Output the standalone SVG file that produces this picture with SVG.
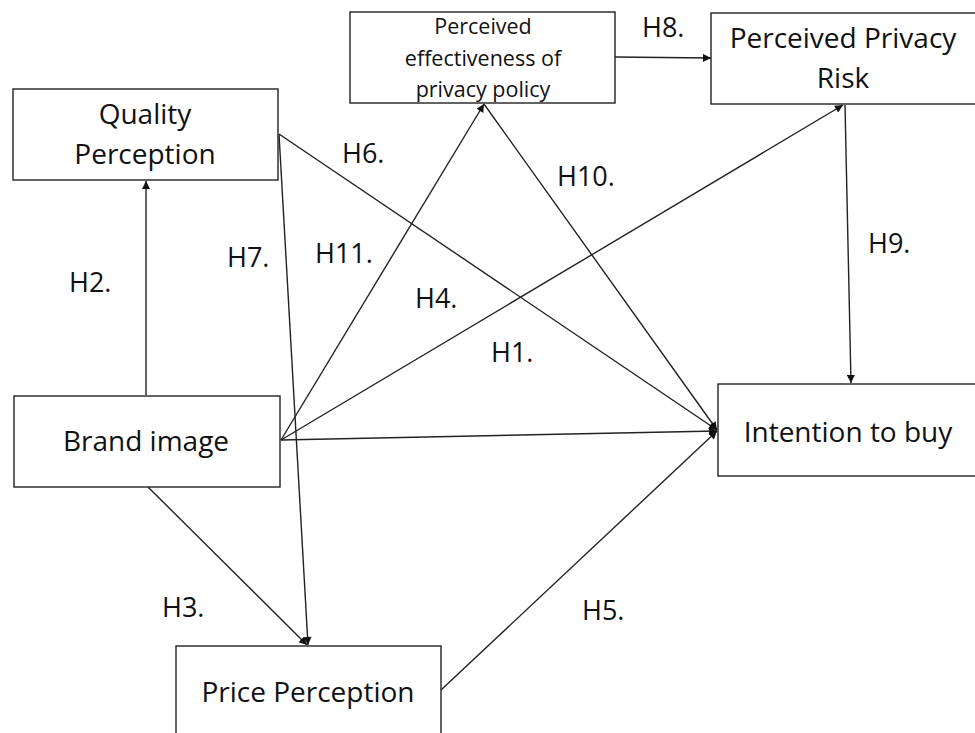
<svg xmlns="http://www.w3.org/2000/svg" width="975" height="733" viewBox="0 0 975 733">
<style>
.box{fill:#fff;stroke:#222;stroke-width:1.4}
.t{font-family:"Open Sans","Liberation Sans",sans-serif;font-size:28px;fill:#111;text-anchor:middle}
.ts{font-family:"Open Sans","Liberation Sans",sans-serif;font-size:21.5px;fill:#111;text-anchor:middle}
.lbl{font-family:"Open Sans","Liberation Sans",sans-serif;font-size:27px;fill:#111}
.c{stroke:#222;stroke-width:1.4;fill:none}
</style>
<defs>
<marker id="ah" viewBox="0 0 10 10" refX="10" refY="5" markerWidth="9" markerHeight="8" markerUnits="userSpaceOnUse" orient="auto">
<path d="M0,0 L10,5 L0,10 z" fill="#111"/>
</marker>
</defs>
<rect width="975" height="733" fill="#fff"/>
<g id="connectors">
<line class="c" x1="146" y1="395" x2="146" y2="181" marker-end="url(#ah)"/>
<line class="c" x1="279" y1="134" x2="717" y2="430" marker-end="url(#ah)"/>
<line class="c" x1="279" y1="134" x2="308" y2="645" marker-end="url(#ah)"/>
<line class="c" x1="281" y1="440" x2="484" y2="104" marker-end="url(#ah)"/>
<line class="c" x1="484" y1="104" x2="717" y2="430" marker-end="url(#ah)"/>
<line class="c" x1="281" y1="440" x2="843" y2="105" marker-end="url(#ah)"/>
<line class="c" x1="281" y1="440" x2="717" y2="431" marker-end="url(#ah)"/>
<line class="c" x1="615" y1="57" x2="711" y2="58" marker-end="url(#ah)"/>
<line class="c" x1="845" y1="105" x2="851" y2="383" marker-end="url(#ah)"/>
<line class="c" x1="148" y1="487" x2="307" y2="645" marker-end="url(#ah)"/>
<line class="c" x1="441" y1="690" x2="717" y2="431" marker-end="url(#ah)"/>
</g>
<g id="quality">
<rect class="box" x="13" y="89" width="265" height="91"/>
<text class="t" x="145" y="124">Quality</text>
<text class="t" x="145" y="164">Perception</text>
</g>
<g id="effectiveness">
<rect class="box" x="350" y="12" width="265" height="91"/>
<text class="ts" x="483" y="34">Perceived</text>
<text class="ts" x="483" y="66">effectiveness of</text>
<text class="ts" x="483" y="97">privacy policy</text>
</g>
<g id="risk">
<rect class="box" x="711" y="13" width="280" height="91"/>
<text class="t" x="843" y="48">Perceived Privacy</text>
<text class="t" x="843" y="88">Risk</text>
</g>
<g id="brand">
<rect class="box" x="14" y="396" width="266" height="91"/>
<text class="t" x="146" y="451">Brand image</text>
</g>
<g id="intention">
<rect class="box" x="718" y="384" width="275" height="92"/>
<text class="t" x="848" y="442">Intention to buy</text>
</g>
<g id="price">
<rect class="box" x="176" y="646" width="265" height="100"/>
<text class="t" x="308" y="702">Price Perception</text>
</g>
<g id="labels">
<text class="lbl" x="69" y="292">H2.</text>
<text class="lbl" x="342" y="163">H6.</text>
<text class="lbl" x="227" y="267">H7.</text>
<text class="lbl" x="315" y="263">H11.</text>
<text class="lbl" x="415" y="308">H4.</text>
<text class="lbl" x="491" y="362">H1.</text>
<text class="lbl" x="557" y="186">H10.</text>
<text class="lbl" x="642" y="37">H8.</text>
<text class="lbl" x="868" y="253">H9.</text>
<text class="lbl" x="162" y="617">H3.</text>
<text class="lbl" x="582" y="620">H5.</text>
</g>
</svg>
